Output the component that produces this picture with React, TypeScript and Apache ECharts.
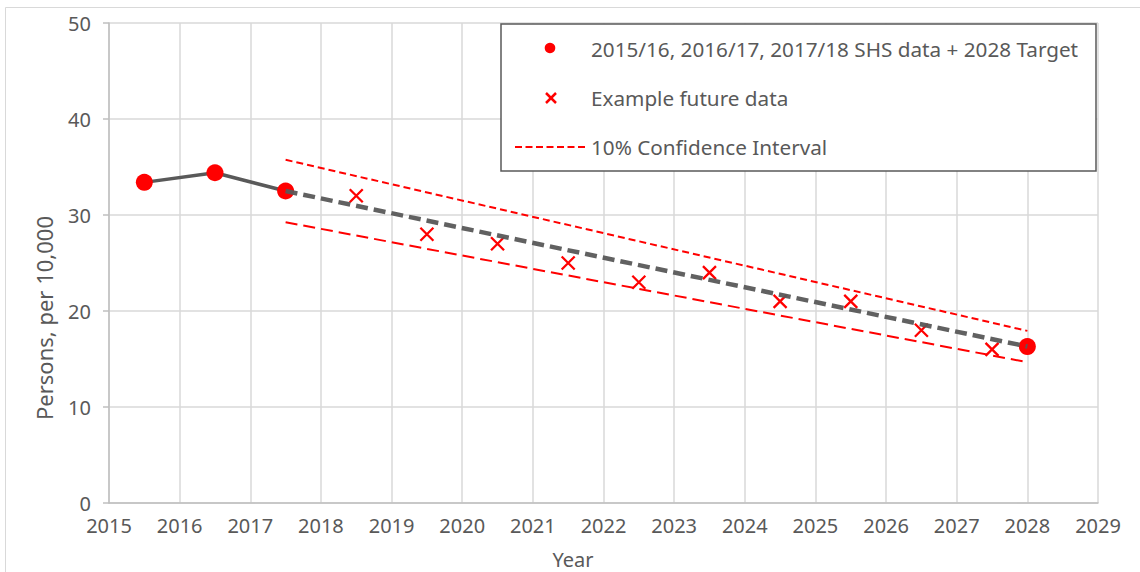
import React, { useEffect, useRef } from "react";
import * as echarts from "echarts";

const xTicks = [2015, 2016, 2017, 2018, 2019, 2020, 2021, 2022, 2023, 2024, 2025, 2026, 2027, 2028, 2029];
const shsYears = [2015.5, 2016.5, 2017.5, 2028];
const shsValues = [33.4, 34.4, 32.5, 16.3];
const futureYears = [2018.5, 2019.5, 2020.5, 2021.5, 2022.5, 2023.5, 2024.5, 2025.5, 2026.5, 2027.5];
const futureValues = [32, 28, 27, 25, 23, 24, 21, 21, 18, 16];
const trendYears = [2017.5, 2028];
const trendValues = [32.5, 16.3];
const upperValues = [35.75, 17.93];
const lowerValues = [29.25, 14.67];

const legendLabels = [
  "2015/16, 2016/17, 2017/18 SHS data + 2028 Target",
  "Example future data",
  "10% Confidence Interval",
];

const FONT = "Noto Sans";
const TEXT = "#595959";

export default function App() {
  const ref = useRef<HTMLDivElement>(null);
  useEffect(() => {
    const chart = echarts.init(ref.current!, null, { renderer: "svg" });
    const pair = (xs: number[], ys: number[]) => xs.map((x, i) => [x, ys[i]]);
    chart.setOption({
      animation: false,
      backgroundColor: "#fff",
      grid: { left: 109, right: 42, top: 23, bottom: 69 },
      xAxis: {
        type: "value",
        min: xTicks[0],
        max: xTicks[xTicks.length - 1],
        interval: 1,
        axisLine: { show: true, lineStyle: { color: "#bfbfbf", width: 1.5 } },
        axisTick: { show: false },
        axisLabel: { color: TEXT, fontFamily: FONT, fontSize: 20, margin: 12, formatter: (v: number) => String(v) },
        splitLine: { show: true, lineStyle: { color: "#d9d9d9", width: 1.5 } },
      },
      yAxis: {
        type: "value",
        min: 0,
        max: 50,
        interval: 10,
        axisLine: { show: true, lineStyle: { color: "#bfbfbf", width: 1.5 } },
        axisTick: { show: true, length: 6, lineStyle: { color: "#bfbfbf", width: 1.5 } },
        axisLabel: { color: TEXT, fontFamily: FONT, fontSize: 20, margin: 18 },
        splitLine: { show: true, lineStyle: { color: "#d9d9d9", width: 1.5 } },
      },
      series: [
        {
          type: "line",
          data: pair(shsYears.slice(0, 3), shsValues.slice(0, 3)),
          symbol: "none",
          lineStyle: { color: "#595959", width: 3.5 },
          z: 2,
        },
        {
          type: "scatter",
          data: pair(shsYears, shsValues),
          symbol: "circle",
          symbolSize: 17,
          itemStyle: { color: "#ff0000", opacity: 1 },
          z: 3,
        },
        {
          type: "scatter",
          data: pair(futureYears, futureValues),
          symbol: "path://M0,0L10,10M10,0L0,10",
          symbolSize: 13,
          itemStyle: { color: "transparent", borderColor: "#ff0000", borderWidth: 2.3, opacity: 1 },
          z: 3,
        },
        {
          type: "line",
          data: pair(trendYears, upperValues),
          symbol: "none",
          lineStyle: { color: "#ff0000", width: 2, type: [7, 4] },
          z: 4,
        },
        {
          type: "line",
          data: pair(trendYears, lowerValues),
          symbol: "none",
          lineStyle: { color: "#ff0000", width: 2, type: [12, 6] },
          z: 4,
        },
        {
          type: "line",
          data: pair(trendYears, trendValues),
          symbol: "none",
          lineStyle: { color: "#595959", width: 4.5, type: [12, 6], opacity: 0.95 },
          z: 5,
        },
      ],
      graphic: [
        {
          type: "rect",
          shape: { x: 5.5, y: 7.5, width: 1140, height: 600 },
          style: { fill: "none", stroke: "#d9d9d9", lineWidth: 1 },
          silent: true,
          z: 0,
        },
        {
          type: "text",
          x: 44,
          y: 318,
          rotation: Math.PI / 2,
          style: { text: "Persons, per 10,000", fill: TEXT, font: `22px "${FONT}"`, align: "center", verticalAlign: "middle" },
          z: 10,
        },
        {
          type: "text",
          x: 573,
          y: 559,
          style: { text: "Year", fill: TEXT, font: `20px "${FONT}"`, align: "center", verticalAlign: "middle" },
          z: 10,
        },
        {
          type: "rect",
          shape: { x: 501, y: 24, width: 595, height: 147 },
          style: { fill: "#fff", stroke: "#595959", lineWidth: 1.5 },
          z: 20,
        },
        {
          type: "circle",
          shape: { cx: 550, cy: 48, r: 5.3 },
          style: { fill: "#ff0000" },
          z: 21,
        },
        {
          type: "line",
          shape: { x1: 546, y1: 93, x2: 556, y2: 103 },
          style: { stroke: "#ff0000", lineWidth: 2.5 },
          z: 21,
        },
        {
          type: "line",
          shape: { x1: 556, y1: 93, x2: 546, y2: 103 },
          style: { stroke: "#ff0000", lineWidth: 2.5 },
          z: 21,
        },
        {
          type: "line",
          shape: { x1: 515, y1: 147, x2: 585, y2: 147 },
          style: { stroke: "#ff0000", lineWidth: 2, lineDash: [7, 3.5] },
          z: 21,
        },
        ...legendLabels.map((t, i) => ({
          type: "text",
          x: 591,
          y: [49, 98, 147][i],
          style: { text: t, fill: TEXT, font: `20.7px "${FONT}"`, align: "left", verticalAlign: "middle" },
          z: 21,
        })),
      ],
    });
    return () => chart.dispose();
  }, []);
  return <div ref={ref} style={{ position: "fixed", left: 0, top: 0, width: 1140, height: 572 }} />;
}
